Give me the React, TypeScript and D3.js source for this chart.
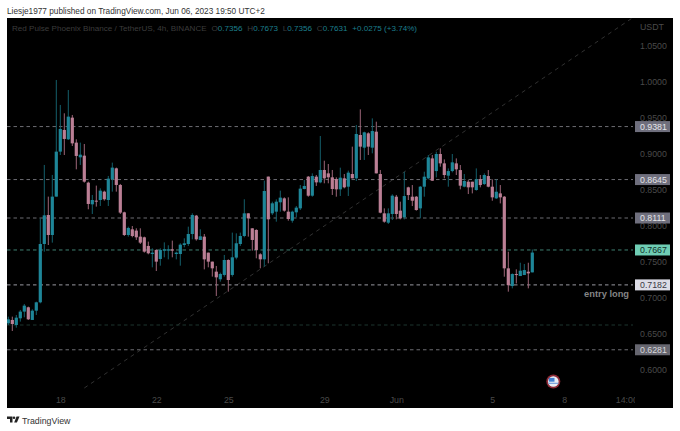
import React, { useEffect, useRef } from 'react';
import * as d3 from 'd3';

const opens = [
  .6648, .6695, .6625, .6718, .6811, .6871, .6695, .6824, .6940, .7750, .8153, .7875, .8408, .9033, .9334, .9204, .9505, .9158, .8954, .8977, .8602, .8301,
  .8352, .8361, .8477, .8361, .8648, .8801, .8570, .8190, .7875, .7954, .7936, .7852, .7843, .7723, .7611, .7667, .7542, .7658, .7658, .7676, .7611, .7611,
  .7736, .7750, .7889, .8144, .7806, .7852, .7630, .7505, .7366, .7260, .7320, .7528, .7320, .7561, .7750, .7861, .8176, .7968, .7945, .7607, .7537, .8686,
  .8176, .8199, .8329, .8384, .8199, .8074, .8190, .8245, .8514, .8685, .8421, .8685, .8606, .8778, .8731, .8676, .8653, .8509, .8662, .8546, .8722, .8662,
  .9264, .9088, .9287, .9088, .9310, .8722, .8176, .8046, .8167, .8407, .8213, .8120, .8537, .8407, .8407, .8245, .8546, .8662, .8939, .8763, .9000, .8870,
  .8699, .8763, .8870, .8777, .8546, .8615, .8615, .8500, .8652, .8583, .8694, .8546, .8384, .8453, .8407, .7412, .7166, .7333, .7305, .7319, .7365, .7356,
];
const highs = [
  .6741, .6741, .6764, .6834, .6917, .6880, .6843, .6949, .8107, .8848, .8408, .8709, 1.0028, .9681, .9565, .9889, .9542, .9204, .9158, .9139, .8616, .8431,
  .8561, .8523, .8491, .8695, .8880, .8811, .8584, .8199, .7991, .8000, .7968, .7968, .7852, .7783, .7690, .7676, .7690, .7773, .7732, .7797, .7644, .7760,
  .7829, .7991, .8176, .8153, .7954, .7889, .7630, .7505, .7445, .7352, .7598, .7537, .7908, .7898, .7908, .8371, .8176, .7968, .7954, .7621, .8630, .8686,
  .8338, .8370, .8491, .8398, .8398, .8213, .8278, .8569, .8639, .8694, .8731, .8708, .9250, .8907, .8861, .8778, .8676, .8810, .8722, .8769, .9102, .9403,
  .9620, .9310, .9301, .9495, .9449, .8778, .8245, .8245, .8440, .8431, .8338, .8754, .8546, .8569, .8416, .8555, .8754, .8986, .8986, .9032, .9078, .8925,
  .8800, .9000, .8939, .8847, .8722, .8638, .8615, .8800, .8708, .8731, .8777, .8648, .8648, .8569, .8416, .7643, .7342, .7398, .7490, .7472, .7490, .7673,
];
const lows = [
  .6625, .6542, .6588, .6672, .6732, .6695, .6695, .6764, .6926, .7644, .7736, .7769, .8408, .8986, .8986, .9195, .9111, .8787, .8848, .8602, .8232, .8167,
  .8269, .8278, .8352, .8278, .8477, .8477, .8167, .7861, .7852, .7843, .7806, .7750, .7630, .7607, .7426, .7375, .7449, .7565, .7537, .7565, .7537, .7449,
  .7704, .7723, .7815, .7797, .7806, .7398, .7426, .7297, .7028, .7227, .7297, .7088, .7297, .7537, .7723, .7843, .7852, .7658, .7551, .7412, .7436, .7482,
  .8153, .8060, .8199, .8199, .8074, .8046, .8120, .8222, .8509, .8407, .8407, .8556, .8593, .8593, .8593, .8431, .8407, .8417, .8523, .8417, .8662, .8625,
  .8917, .8917, .8986, .9009, .8731, .8176, .8046, .8028, .8083, .8093, .8092, .8092, .8361, .8277, .8213, .8106, .8407, .8648, .8629, .8675, .8824, .8662,
  .8546, .8745, .8708, .8509, .8537, .8444, .8453, .8490, .8537, .8569, .8537, .8351, .8375, .8314, .7296, .7088, .7134, .7203, .7305, .7319, .7134, .7356,
];
const closes = [
  .6704, .6639, .6727, .6811, .6894, .6704, .6824, .6940, .7750, .8148, .7875, .8408, .9033, .9348, .9209, .9519, .9148, .8973, .8991, .8616, .8306, .8361,
  .8338, .8491, .8371, .8658, .8811, .8570, .8186, .7875, .7973, .7861, .7843, .7769, .7644, .7621, .7630, .7505, .7667, .7676, .7676, .7658, .7630, .7741,
  .7760, .7889, .8153, .7815, .7857, .7537, .7505, .7412, .7287, .7334, .7528, .7250, .7565, .7760, .7861, .8176, .8107, .7806, .7667, .7537, .8486, .8093,
  .8315, .8338, .8394, .8213, .8097, .8199, .8255, .8519, .8556, .8421, .8694, .8606, .8778, .8662, .8676, .8514, .8509, .8671, .8537, .8741, .8662, .9278,
  .9102, .9301, .9102, .9319, .8731, .8185, .8060, .8176, .8421, .8167, .8106, .8416, .8430, .8351, .8222, .8546, .8685, .8953, .8629, .9000, .8870, .8708,
  .8763, .8884, .8787, .8560, .8625, .8537, .8537, .8648, .8569, .8708, .8546, .8398, .8476, .8398, .7412, .7180, .7333, .7319, .7379, .7388, .7342, .7631,
];

const priceTicks = [0.6, 0.65, 0.7, 0.75, 0.8, 0.85, 0.9, 0.95, 1.0, 1.05];
const timeTickLabels = ['18', '22', '25', '29', 'Jun', '5', '8', '14:00'];
const timeTicks = [
  Date.UTC(2023, 4, 18), Date.UTC(2023, 4, 22), Date.UTC(2023, 4, 25), Date.UTC(2023, 4, 29),
  Date.UTC(2023, 5, 1), Date.UTC(2023, 5, 5), Date.UTC(2023, 5, 8), Date.UTC(2023, 5, 10, 14),
];
const firstCandle = Date.UTC(2023, 4, 15, 20);
const candleMs = 4 * 3600 * 1000;

const levelPrices = [0.9381, 0.8645, 0.8111, 0.7667, 0.7182, 0.6625, 0.6281];
const levelLabels = ['0.9381', '0.8645', '0.8111', '0.7667', '0.7182', '', '0.6281'];
const levelColors = ['#6c6c72', '#6c6c72', '#6c6c72', '#3f7f71', '#9a9aa2', '#1c352e', '#6c6c72'];
const levelBoxes = ['#6f6f7d', '#6f6f7d', '#6f6f7d', '#6fcdb4', '#dcdce6', '', '#66666f'];
const levelText = ['#e4e4e8', '#e4e4e8', '#e4e4e8', '#10302a', '#3a3a44', '', '#d8d8dc'];

const trendTimes = [Date.UTC(2023, 4, 19, 0), Date.UTC(2023, 5, 10, 20)];
const trendPrices = [0.575, 1.0889];

const legendParts = ['O', '0.7356', 'H', '0.7673', 'L', '0.7356', 'C', '0.7631', '+0.0275 (+3.74%)'];

const FONT = '"Liberation Sans", sans-serif';
const PANE = { left: 7, right: 635, top: 18, bottom: 408, edge: 673 };

export default function App() {
  const svgRef = useRef<SVGSVGElement>(null);

  useEffect(() => {
    if (!svgRef.current) return;
    const svg = d3.select(svgRef.current);
    svg.selectAll('*').remove();

    const x = d3.scaleTime()
      .domain([firstCandle, firstCandle + 13 * candleMs])
      .range([8.3, 60.3]);
    const y = d3.scaleLinear().domain([0.6, 1.05]).range([370, 46]);

    svg.append('rect')
      .attr('x', PANE.left).attr('y', PANE.top)
      .attr('width', PANE.edge - PANE.left).attr('height', PANE.bottom - PANE.top)
      .attr('fill', '#000');

    svg.append('clipPath').attr('id', 'pane').append('rect')
      .attr('x', PANE.left).attr('y', PANE.top)
      .attr('width', PANE.right - PANE.left).attr('height', PANE.bottom - PANE.top);

    // header
    svg.append('text').attr('x', 7).attr('y', 13.5)
      .attr('font-size', 8.25).attr('fill', '#333').attr('font-family', FONT)
      .text('Liesje1977 published on TradingView.com, Jun 06, 2023 19:50 UTC+2');
    const legend = svg.append('text').attr('x', 12).attr('y', 31)
      .attr('font-size', 8.1).attr('font-family', FONT).attr('fill', '#3c3c3c')
      .text('Red Pulse Phoenix Binance / TetherUS, 4h, BINANCE');
    legendParts.forEach((part, i) => {
      const isKey = i < 8 && i % 2 === 0;
      legend.append('tspan')
        .attr('dx', isKey || i === 8 ? 4.8 : 0)
        .attr('fill', isKey ? '#3c3c3c' : '#1c7f8d')
        .text(part);
    });

    // trend line
    const trend = d3.line<number>()
      .x((_, i) => x(trendTimes[i]))
      .y((d) => y(d));
    svg.append('path')
      .datum(trendPrices)
      .attr('d', trend)
      .attr('clip-path', 'url(#pane)')
      .attr('fill', 'none')
      .attr('stroke', '#3d3d3d')
      .attr('stroke-width', 0.8)
      .attr('stroke-dasharray', '4 4');

    // horizontal levels
    svg.append('g').selectAll('line')
      .data(levelPrices)
      .enter().append('line')
      .attr('x1', PANE.left).attr('x2', PANE.right - 2)
      .attr('y1', (d) => y(d)).attr('y2', (d) => y(d))
      .attr('stroke', (_, i) => levelColors[i])
      .attr('stroke-width', 1)
      .attr('stroke-dasharray', '3.5 3');

    // candles
    const candles = d3.range(opens.length);
    const candleX = (i: number) => x(firstCandle + i * candleMs);
    const up = (i: number) => closes[i] >= opens[i];
    const g = svg.append('g').attr('clip-path', 'url(#pane)');
    g.selectAll('.wick')
      .data(candles)
      .enter().append('line')
      .attr('class', 'wick')
      .attr('x1', candleX).attr('x2', candleX)
      .attr('y1', (i) => y(highs[i])).attr('y2', (i) => y(lows[i]))
      .attr('stroke', (i) => (up(i) ? '#14606c' : '#9d6679'))
      .attr('stroke-width', 1);
    g.selectAll('.body')
      .data(candles)
      .enter().append('rect')
      .attr('class', 'body')
      .attr('x', (i) => candleX(i) - 1.6)
      .attr('width', 3.2)
      .attr('y', (i) => y(Math.max(opens[i], closes[i])))
      .attr('height', (i) => Math.max(1, Math.abs(y(opens[i]) - y(closes[i]))))
      .attr('fill', (i) => (up(i) ? '#1e8698' : '#bb7f95'));

    // axes
    const priceAxis = d3.axisRight(y)
      .tickValues(priceTicks)
      .tickFormat((d) => d3.format('.4f')(d as number))
      .tickSize(0)
      .tickPadding(0);
    const pa = svg.append('g').attr('transform', `translate(${PANE.right + 5},0)`).call(priceAxis);
    pa.select('.domain').remove();
    pa.selectAll('text').attr('fill', '#4a4a4a').attr('font-size', 8.8).attr('font-family', FONT);

    svg.append('clipPath').attr('id', 'paneAxis').append('rect')
      .attr('x', PANE.left).attr('y', 0)
      .attr('width', PANE.right - PANE.left).attr('height', 20);

    const timeAxis = d3.axisBottom(x)
      .tickValues(timeTicks)
      .tickFormat((_, i) => timeTickLabels[i])
      .tickSize(0)
      .tickPadding(0);
    const ta = svg.append('g')
      .attr('transform', 'translate(0,397)')
      .attr('clip-path', 'url(#paneAxis)')
      .call(timeAxis);
    ta.select('.domain').remove();
    ta.selectAll('text').attr('fill', '#4a4a4a').attr('font-size', 8.8).attr('font-family', FONT);

    svg.append('text').attr('x', 640).attr('y', 29.5)
      .attr('font-size', 8.8).attr('fill', '#4a4a4a').attr('font-family', FONT)
      .text('USDT');

    // price labels on the scale
    levelPrices.forEach((p, i) => {
      if (!levelLabels[i]) return;
      svg.append('rect')
        .attr('x', 635).attr('y', y(p) - 5.5)
        .attr('width', 35).attr('height', 11)
        .attr('fill', levelBoxes[i]);
      svg.append('text')
        .attr('x', 640).attr('y', y(p) + 3.2)
        .attr('font-size', 8.8).attr('fill', levelText[i]).attr('font-family', FONT)
        .text(levelLabels[i]);
    });

    svg.append('text').attr('x', 629).attr('y', 296.5)
      .attr('text-anchor', 'end')
      .attr('font-size', 9.3).attr('font-weight', 700)
      .attr('fill', '#858585').attr('font-family', FONT)
      .text('entry long');

    // event marker
    const flag = svg.append('g').attr('transform', 'translate(553.3,381.5)');
    flag.append('circle').attr('r', 7).attr('fill', '#8e2a36');
    flag.append('circle').attr('r', 5.3).attr('fill', '#e8eef4');
    flag.append('rect').attr('x', -4.4).attr('y', -3.6).attr('width', 5.6).attr('height', 3.8).attr('fill', '#3f7fd0');
    flag.append('rect').attr('x', -5).attr('y', 1.2).attr('width', 10).attr('height', 1.3).attr('fill', '#7fa7dc');

    // footer logo
    const logo = svg.append('g').attr('fill', '#222');
    logo.append('path').attr('d', 'M7 416.5h5.5v6h-2.5v-3.4H7z');
    logo.append('circle').attr('cx', 14).attr('cy', 417.8).attr('r', 1.3);
    logo.append('path').attr('d', 'M16.5 416.5h3l-2.6 6h-2.7z');
    svg.append('text').attr('x', 22).attr('y', 423.5)
      .attr('font-size', 8.8).attr('fill', '#333').attr('font-family', FONT)
      .text('TradingView');
  }, []);

  return (
    <svg
      ref={svgRef}
      width={680}
      height={431}
      style={{ position: 'absolute', left: 0, top: 0, background: '#fff' }}
    />
  );
}
